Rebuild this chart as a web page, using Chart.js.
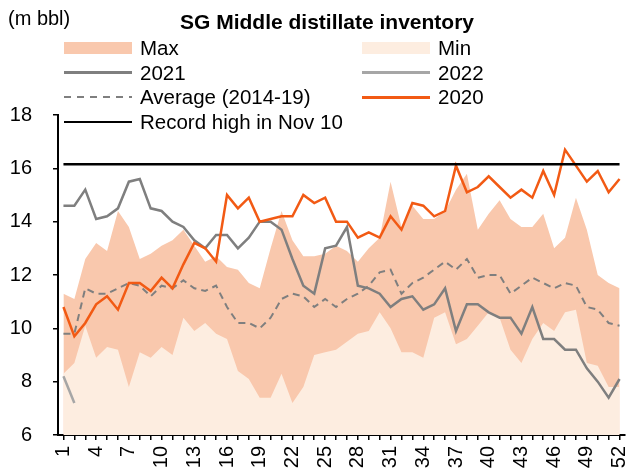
<!DOCTYPE html>
<html>
<head>
<meta charset="utf-8">
<script src="https://cdn.jsdelivr.net/npm/chart.js@4.4.1/dist/chart.umd.min.js"></script>
<style>
    body { margin: 0; background: #fff; }
    #wrap { position: relative; width: 628px; height: 475px; font-family: 'Liberation Sans', Arial, sans-serif; color: #000; }
    #unit { position: absolute; left: 8px; top: 7px; font-size: 20px; line-height: 22px; }
    #title { position: absolute; left: 0; top: 11px; width: 654px; text-align: center; font-size: 21px; font-weight: bold; line-height: 22px; }
    .item { position: absolute; height: 22px; display: flex; align-items: center; font-size: 20.5px; white-space: nowrap; }
    .swatch { width: 68px; margin-right: 8px; }
</style>
</head>
<body>
<div id="wrap">
    <canvas id="myChart" width="628" height="475"></canvas>
    <div id="unit">(m bbl)</div>
    <div id="title">SG Middle distillate inventory</div>
    <div id="legend"></div>
</div>
<script>
// weeks of the year
const weeks = ['1', '2', '3', '4', '5', '6', '7', '8', '9', '10', '11', '12', '13', '14', '15', '16', '17', '18', '19', '20',
    '21', '22', '23', '24', '25', '26', '27', '28', '29', '30', '31', '32', '33', '34', '35', '36', '37', '38', '39', '40',
    '41', '42', '43', '44', '45', '46', '47', '48', '49', '50', '51', '52'];

const maxValues = [11.3, 11.1, 12.6, 13.2, 12.9, 14.4, 13.8, 12.6, 12.8, 13.1, 13.3, 13.7, 13.1, 12.5, 12.7, 12.3, 12.2, 11.7, 11.5, 13.0,
    14.4, 13.3, 12.7, 12.7, 12.8, 13.1, 12.9, 12.5, 13.0, 13.4, 15.5, 13.8, 14.6, 14.1, 14.1, 14.4, 15.2, 15.8, 13.7, 14.3,
    14.8, 14.1, 13.8, 13.8, 14.3, 13.0, 13.4, 14.9, 13.7, 12.0, 11.7, 11.5];
const minValues = [8.3, 8.7, 10.1, 8.9, 9.3, 9.2, 7.8, 9.1, 8.9, 9.3, 9.0, 10.4, 9.9, 10.2, 9.8, 9.6, 8.4, 8.1, 7.4, 7.4,
    8.3, 7.2, 7.8, 9.0, 9.1, 9.2, 9.5, 9.8, 9.9, 10.6, 10.0, 9.1, 9.1, 8.9, 10.4, 10.6, 9.4, 9.6, 10.1, 10.6,
    10.4, 9.2, 8.7, 9.6, 10.2, 9.9, 10.6, 10.7, 8.7, 8.6, 7.8, 7.8];
const y2021 = [14.6, 14.6, 15.2, 14.1, 14.2, 14.5, 15.5, 15.6, 14.5, 14.4, 14.0, 13.8, 13.3, 13.0, 13.5, 13.5, 13.0, 13.4, 14.0, 14.0,
    13.7, 12.6, 11.6, 11.3, 13.0, 13.1, 13.8, 11.6, 11.5, 11.3, 10.8, 11.1, 11.2, 10.7, 10.9, 11.5, 9.9, 10.9, 10.9, 10.6,
    10.4, 10.4, 9.8, 10.8, 9.6, 9.6, 9.2, 9.2, 8.5, 8.0, 7.4, 8.1];
const y2022 = [8.2, 7.2];
const avg1419 = [9.8, 9.8, 11.5, 11.3, 11.3, 11.5, 11.7, 11.6, 11.2, 11.6, 11.5, 11.8, 11.5, 11.4, 11.6, 10.8, 10.2, 10.2, 10.0, 10.4,
    11.1, 11.3, 11.2, 10.8, 11.1, 10.8, 11.1, 11.3, 11.6, 12.1, 12.2, 11.3, 11.7, 11.9, 12.2, 12.5, 12.2, 12.6, 11.9, 12.0,
    12.0, 11.3, 11.6, 11.9, 11.7, 11.5, 11.7, 11.6, 10.8, 10.7, 10.2, 10.1];
const y2020 = [10.8, 9.7, 10.2, 10.9, 11.2, 10.7, 11.7, 11.7, 11.4, 11.9, 11.5, 12.4, 13.2, 13.0, 12.5, 15.0, 14.5, 14.9, 14.0, 14.1,
    14.2, 14.2, 15.0, 14.7, 14.9, 14.0, 14.0, 13.4, 13.6, 13.4, 14.2, 13.7, 14.7, 14.6, 14.2, 14.4, 16.1, 15.1, 15.3, 15.7,
    15.3, 14.9, 15.2, 14.9, 15.9, 15.0, 16.7, 16.1, 15.5, 15.9, 15.1, 15.6];
const recordHigh = 16.15;

const yTicks = [6, 8, 10, 12, 14, 16, 18];

// legend shown in two columns, read left to right
const legendOrder = ['Max', 'Min', '2021', '2022', 'Average (2014-19)', '2020', 'Record high in Nov 10'];

const datasets = [
    { label: 'Max', data: maxValues, kind: 'area', backgroundColor: '#F9C8AD', borderWidth: 0, fill: 'start', order: 10 },
    { label: 'Min', data: minValues, kind: 'area', backgroundColor: '#FDEDE0', borderWidth: 0, fill: 'start', order: 9 },
    { label: 'Average (2014-19)', data: avg1419, kind: 'dash', borderColor: '#7F7F7F', borderWidth: 2, borderDash: [7, 5], fill: false, order: 5 },
    { label: '2021', data: y2021, kind: 'line', borderColor: '#7F7F7F', borderWidth: 2.5, fill: false, order: 4 },
    { label: '2022', data: y2022, kind: 'line', borderColor: '#A6A6A6', borderWidth: 2.5, fill: false, order: 3 },
    { label: '2020', data: y2020, kind: 'line', borderColor: '#F25A14', borderWidth: 2.5, fill: false, order: 2 },
    { label: 'Record high in Nov 10', data: [{ x: weeks[0], y: recordHigh }, { x: weeks[weeks.length - 1], y: recordHigh }],
        kind: 'line', borderColor: '#000', borderWidth: 2.5, fill: false, order: 1 }
];

const font = { family: "'Liberation Sans', Arial, sans-serif", size: 20 };

const ctx = document.getElementById('myChart');
const chart = new Chart(ctx, {
    type: 'line',
    data: { labels: weeks, datasets: datasets },
    options: {
        responsive: false,
        animation: false,
        devicePixelRatio: 1,
        layout: { padding: { top: 115, right: 3, left: 0, bottom: 0 } },
        elements: { point: { radius: 0 }, line: { tension: 0 } },
        plugins: { legend: { display: false }, title: { display: false }, tooltip: { enabled: false } },
        scales: {
            x: {
                type: 'category',
                offset: true,
                afterFit: (scale) => {
                    scale.height = 40;
                    scale.paddingLeft = 0;
                    scale.paddingRight = 0;
                },
                border: { display: true, color: '#000', width: 2 },
                grid: { display: true, drawOnChartArea: false, drawTicks: true, tickLength: 5, color: '#000', lineWidth: 1.5, offset: false },
                ticks: {
                    autoSkip: false, maxRotation: 90, minRotation: 90, padding: 6, color: '#000', font: font,
                    callback: (val, idx) => (idx % 3 === 0 ? weeks[idx] : '')
                }
            },
            y: {
                min: 6, max: 18,
                afterFit: (scale) => { scale.width = 58; },
                afterBuildTicks: (scale) => { scale.ticks = yTicks.map(v => ({ value: v })); },
                border: { display: true, color: '#000', width: 2 },
                grid: { display: true, drawOnChartArea: false, drawTicks: true, tickLength: 5, color: '#000', lineWidth: 1.5 },
                ticks: { padding: 21, color: '#000', font: font }
            }
        }
    }
});

// html legend
const legend = document.getElementById('legend');
legendOrder.forEach((name, i) => {
    const ds = datasets.find(d => d.label === name);
    const item = document.createElement('div');
    item.className = 'item';
    item.style.left = (64 + (i % 2) * 298) + 'px';
    item.style.top = (48 + Math.floor(i / 2) * 24.7 - 11) + 'px';
    const sw = document.createElement('span');
    sw.className = 'swatch';
    if (ds.kind === 'area') {
        sw.style.height = '12px';
        sw.style.background = ds.backgroundColor;
    } else if (ds.kind === 'dash') {
        sw.style.height = ds.borderWidth + 'px';
        sw.style.background = 'repeating-linear-gradient(to right, ' + ds.borderColor + ' 0 7px, transparent 7px 13px)';
    } else {
        sw.style.height = ds.borderWidth + 'px';
        sw.style.background = ds.borderColor;
    }
    const txt = document.createElement('span');
    txt.textContent = name;
    item.appendChild(sw);
    item.appendChild(txt);
    legend.appendChild(item);
});
</script>
</body>
</html>
